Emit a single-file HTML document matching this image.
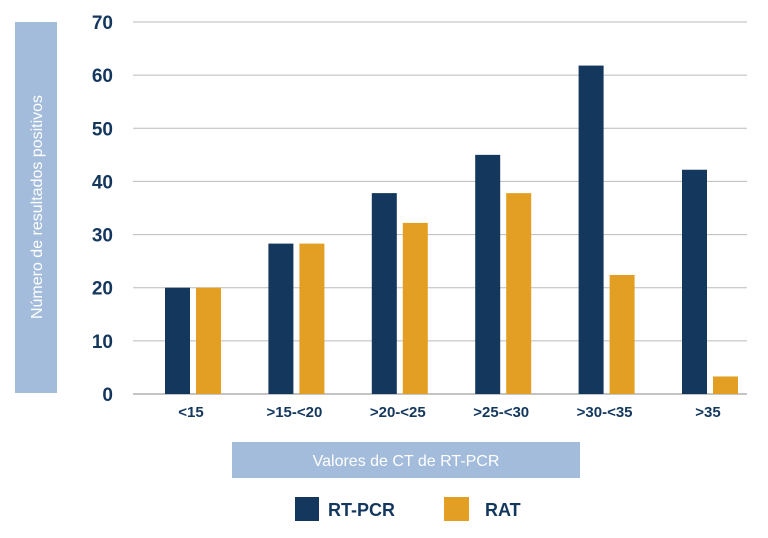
<!DOCTYPE html>
<html><head><meta charset="utf-8"><style>
body{margin:0;background:#fff;font-family:"Liberation Sans",sans-serif;}
</style></head><body>
<svg width="768" height="533" viewBox="0 0 768 533" xmlns="http://www.w3.org/2000/svg">
<rect x="15" y="22" width="42" height="371" fill="#a3bcdc"/>
<text transform="translate(42,207) rotate(-90)" text-anchor="middle" font-size="16" fill="#fff">Número de resultados positivos</text>
<g id="grid"></g><g id="bars"></g><g id="ticks"></g>
<rect x="232" y="442" width="348" height="36" fill="#a3bcdc"/>
<text x="406" y="466" text-anchor="middle" font-size="16" fill="#fff">Valores de CT de RT-PCR</text>
<g>
<rect x="295" y="497" width="24" height="24" fill="#14375e"/>
<text x="328" y="516" font-size="18" font-weight="bold" fill="#14375e">RT-PCR</text>
<rect x="444" y="497" width="25" height="24" fill="#e29f24"/>
<text x="485" y="516" font-size="18" font-weight="bold" fill="#14375e">RAT</text>
</g>
</svg>
<script>
const categories=["<15",">15-<20",">20-<25",">25-<30",">30-<35",">35"];
const rtpcr=[20,28.3,37.8,45,61.8,42.2];
const rat=[20,28.3,32.2,37.8,22.4,3.3];
const yTicks=[0,10,20,30,40,50,60,70];
const NS="http://www.w3.org/2000/svg";
const y0=394,yTop=22,yMax=70;
function y(v){return y0-(v/yMax)*(y0-yTop);}
const step=103.4,first=193;
function cx(i){return first+i*step;}
function mk(t,a,p){const e=document.createElementNS(NS,t);for(const k in a)e.setAttribute(k,a[k]);p.appendChild(e);return e;}
const grid=document.getElementById('grid'),bars=document.getElementById('bars'),ticks=document.getElementById('ticks');
yTicks.forEach(v=>{
 const l=mk('line',{x1:133,x2:747,y1:y(v),y2:y(v),stroke:v===0?'#888':'#bbb','stroke-width':1},grid);
 
 
 const t=mk('text',{x:113,y:y(v)+7,'text-anchor':'end','font-size':19,'font-weight':'bold',fill:'#14375e'},ticks);
 t.textContent=v;
 
 
});
categories.forEach((c,i)=>{
 const b1=mk('rect',{x:cx(i)-28,y:y(rtpcr[i]),width:25,height:y0-y(rtpcr[i]),fill:'#14375e'},bars);
 
 
 const b2=mk('rect',{x:cx(i)+3,y:y(rat[i]),width:25,height:y0-y(rat[i]),fill:'#e29f24'},bars);
 
 
 const t=mk('text',{x:cx(i)-2,y:417,'text-anchor':'middle','font-size':15,'font-weight':'bold',fill:'#14375e'},ticks);
 t.textContent=c;
 
 
});
</script>
</body></html>
